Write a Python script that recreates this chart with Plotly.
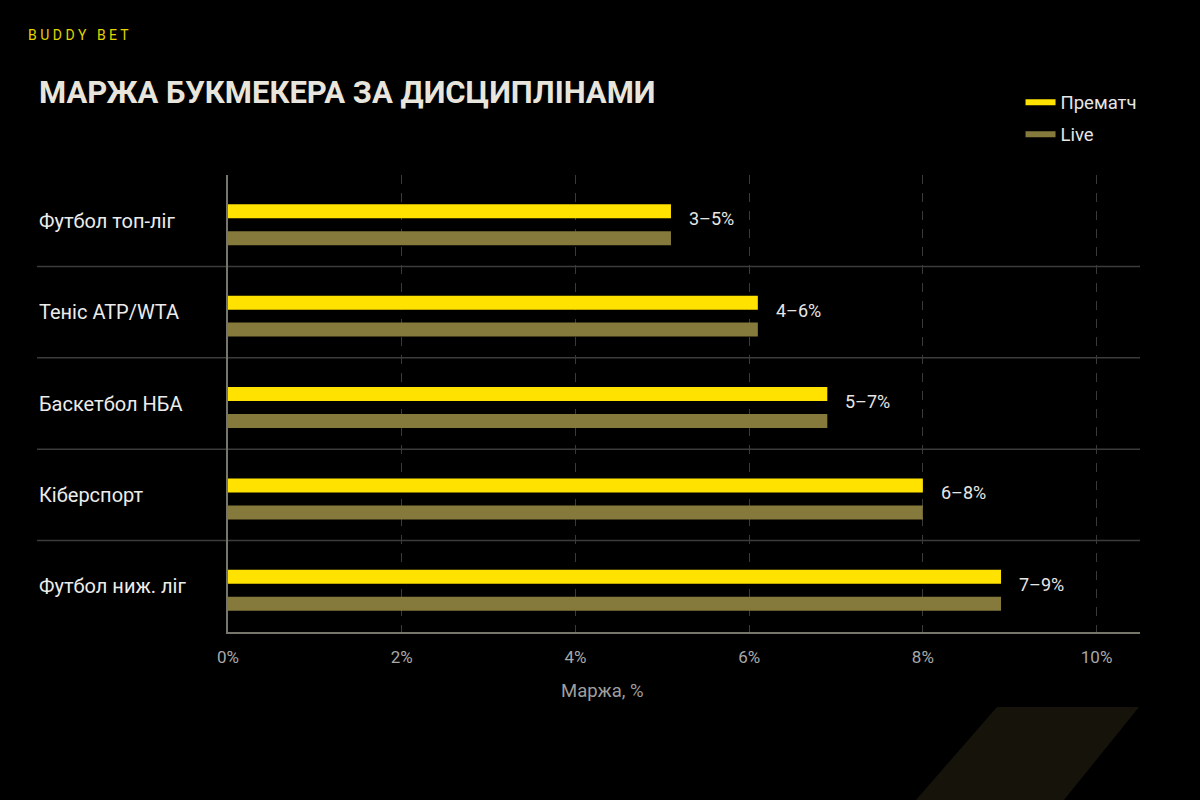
import plotly.graph_objects as go

categories = ["Футбол топ-ліг", "Теніс ATP/WTA", "Баскетбол НБА", "Кіберспорт", "Футбол ниж. ліг"]
prematch = [5.1, 6.1, 6.9, 8.0, 8.9]
live = [5.1, 6.1, 6.9, 8.0, 8.9]
range_labels = ["3–5%", "4–6%", "5–7%", "6–8%", "7–9%"]
x_ticks = [0, 2, 4, 6, 8, 10]
x_tick_text = ["0%", "2%", "4%", "6%", "8%", "10%"]

YELLOW = "#ffe200"
OLIVE = "#857a3c"
FONT = "Roboto"

fig = go.Figure()
fig.add_trace(go.Bar(y=categories, x=prematch, orientation="h", name="Прематч",
                     width=0.153, offset=-0.18,
                     marker=dict(color=YELLOW, line=dict(width=0)), showlegend=False))
fig.add_trace(go.Bar(y=categories, x=live, orientation="h", name="Live",
                     width=0.153, offset=0.115,
                     marker=dict(color=OLIVE, line=dict(width=0)), showlegend=False))

# legend entries drawn as short lines
fig.add_trace(go.Scatter(x=[None], y=[None], mode="lines", name="Прематч",
                         line=dict(color=YELLOW, width=6), legendgroup="a"))
fig.add_trace(go.Scatter(x=[None], y=[None], mode="lines", name="Live",
                         line=dict(color=OLIVE, width=6), legendgroup="b"))

# range labels next to bars
for cat, v, lab in zip(categories, prematch, range_labels):
    fig.add_annotation(x=v, y=cat, text=lab, showarrow=False, xanchor="left",
                       xshift=16, yshift=2, font=dict(family=FONT, size=18, color="#e6e6e6"))

# left-aligned category labels
for cat in categories:
    fig.add_annotation(x=-0.2094, xref="paper", y=cat, text=cat, showarrow=False,
                       xanchor="left", font=dict(family=FONT, size=20, color="#ececec"))

# separators between categories
for i in range(len(categories) - 1):
    fig.add_shape(type="line", xref="paper", yref="y", x0=-0.2094, x1=1,
                  y0=i + 0.5, y1=i + 0.5, line=dict(color="#3c3c3c", width=1.5), layer="below")

# background decoration
fig.add_shape(type="path", xref="paper", yref="paper",
              path="M 0.8432 -0.1641 L 0.9989 -0.1641 L 0.9156 -0.37 L 0.7533 -0.37 Z",
              fillcolor="#16140a", line=dict(width=0), layer="below")

fig.add_annotation(x=-0.222, xref="paper", y=1.306, yref="paper", text="B U D D Y   B E T",
                   showarrow=False, xanchor="left", yanchor="middle",
                   font=dict(family=FONT, size=14, color="#e2d400"))
fig.add_annotation(x=-0.2094, xref="paper", y=1.18, yref="paper",
                   text="<b>МАРЖА БУКМЕКЕРА ЗА ДИСЦИПЛІНАМИ</b>",
                   showarrow=False, xanchor="left", yanchor="middle",
                   font=dict(family=FONT, size=31, color="#e8e5dc"))
fig.add_annotation(x=0.41, xref="paper", y=-0.13, yref="paper", text="Маржа, %",
                   showarrow=False, xanchor="center", yanchor="middle",
                   font=dict(family=FONT, size=18.5, color="#9e9e9e"))

fig.update_layout(
    width=1200, height=800,
    paper_bgcolor="#000000", plot_bgcolor="#000000",
    margin=dict(l=228, r=60, t=175, b=168),
    barmode="overlay",
    font=dict(family=FONT, color="#dddddd"),
    legend=dict(x=0.869, y=1.20, xanchor="left", yanchor="top", bgcolor="rgba(0,0,0,0)",
                font=dict(family=FONT, size=18.5, color="#e6e6e6"), tracegroupgap=5),
    xaxis=dict(range=[0, 10.5], tickvals=x_ticks, ticktext=x_tick_text,
               showgrid=True, gridcolor="#3a3a3a", griddash="dash", gridwidth=1,
               zeroline=False, showline=True, linecolor="#77766a", linewidth=2,
               ticks="", ticklabelstandoff=9,
               tickfont=dict(family=FONT, size=17, color="#a8a8a8")),
    yaxis=dict(type="category", range=[4.5, -0.5], showticklabels=False, showgrid=False,
               zeroline=False, showline=True, linecolor="#77766a", linewidth=2, ticks=""),
)

fig.write_html("out.html", config={"displayModeBar": False},
               post_script="document.body.style.margin='0';document.body.style.background='#000';")
